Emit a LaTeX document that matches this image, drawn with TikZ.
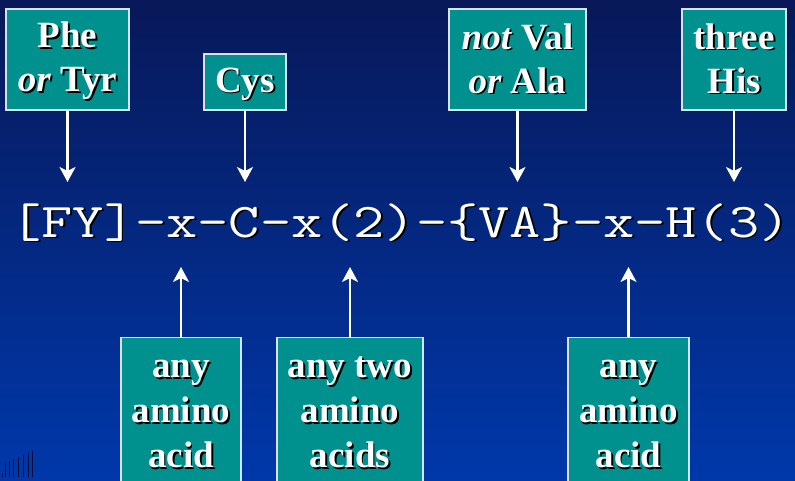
\documentclass[tikz,border=0pt]{standalone}
\usepackage{fontspec}
\setmainfont{Liberation Serif}
\usetikzlibrary{arrows.meta}
\definecolor{bgtop}{RGB}{8,24,88}
\definecolor{bgbot}{RGB}{0,56,170}
\definecolor{tealbox}{RGB}{0,145,143}
\definecolor{boxline}{RGB}{215,228,240}
\definecolor{markcol}{RGB}{0,12,60}
\newcommand\sh[1]{\makebox[0pt][l]{\hspace{1.8pt}\raisebox{-1.8pt}{\color{black}#1}}#1}
\newcommand\bs[1]{\rule[-#1pt]{0pt}{\dimexpr 30pt+#1pt\relax}}
\tikzset{
  lbox/.style={draw=boxline, line width=1.2pt, fill=tealbox, text=white,
    align=center, inner sep=0pt, font=\bfseries\fontsize{37}{44}\selectfont},
  lboxb/.style={lbox, font=\bfseries\fontsize{37}{45}\selectfont},
  arr/.style={draw=white, line width=2.5pt, -{Stealth[length=15pt,width=16pt,inset=4pt]}},
  marks/.style={draw=markcol, line width=0.9pt},
}
\begin{document}
\begin{tikzpicture}[x=1pt,y=-1pt]
\clip (0,0) rectangle (795,480);
\shade[top color=bgtop, bottom color=bgbot] (0,0) rectangle (795,480);
\foreach \x/\t in {2/473,5/463,9/461,13/459,18/457,23/455,28/453,32/451}
  \draw[marks] (\x,\t) -- (\x,477);
% pattern
\node[anchor=base, text=white, inner sep=0pt] (pat) at (400.5,237)
  {\scalebox{1}[0.8]{\fontsize{60.6}{60}\selectfont\ttfamily\sh{[FY]-x-C-x(2)-\{VA\}-x-H(3)}}};
% top boxes
\node[lbox, minimum width=123, minimum height=101] (b1) at (67.5,59.5)
  {\sh{Phe}\bs{7}\\\sh{\textit{or} Tyr}\bs{7}};
\node[lbox, minimum width=82, minimum height=56] (b2) at (245,82)
  {\sh{Cys}\bs{8}};
\node[lbox, minimum width=137, minimum height=101] (b3) at (517.5,59.5)
  {\sh{\textit{not} Val}\bs{7}\\\sh{\textit{or} Ala}\bs{7}};
\node[lbox, minimum width=104, minimum height=101] (b4) at (734,59.5)
  {\sh{three}\bs{7}\\\sh{His}\bs{7}};
% bottom boxes
\node[lboxb, minimum width=120, minimum height=150, anchor=north] (bA) at (181,337)
  {\sh{any}\bs{10}\\\sh{amino}\bs{10}\\\sh{acid}\bs{10}};
\node[lboxb, minimum width=146, minimum height=150, anchor=north] (bB) at (350,337)
  {\sh{any two}\bs{10}\\\sh{amino}\bs{10}\\\sh{acids}\bs{10}};
\node[lboxb, minimum width=121, minimum height=150, anchor=north] (bC) at (628.5,337)
  {\sh{any}\bs{10}\\\sh{amino}\bs{10}\\\sh{acid}\bs{10}};
% arrow targets
\coordinate (a1) at (67.5,182);
\coordinate (a2) at (245,182);
\coordinate (a3) at (517.5,182);
\coordinate (a4) at (734,182);
\coordinate (aA) at (181,267);
\coordinate (aB) at (350,267);
\coordinate (aC) at (628.5,267);
\draw[arr] (b1.south) -- (a1);
\draw[arr] (b2.south) -- (a2);
\draw[arr] (b3.south) -- (a3);
\draw[arr] (b4.south) -- (a4);
\draw[arr] (bA.north) -- (aA);
\draw[arr] (bB.north) -- (aB);
\draw[arr] (bC.north) -- (aC);
\end{tikzpicture}
\end{document}
